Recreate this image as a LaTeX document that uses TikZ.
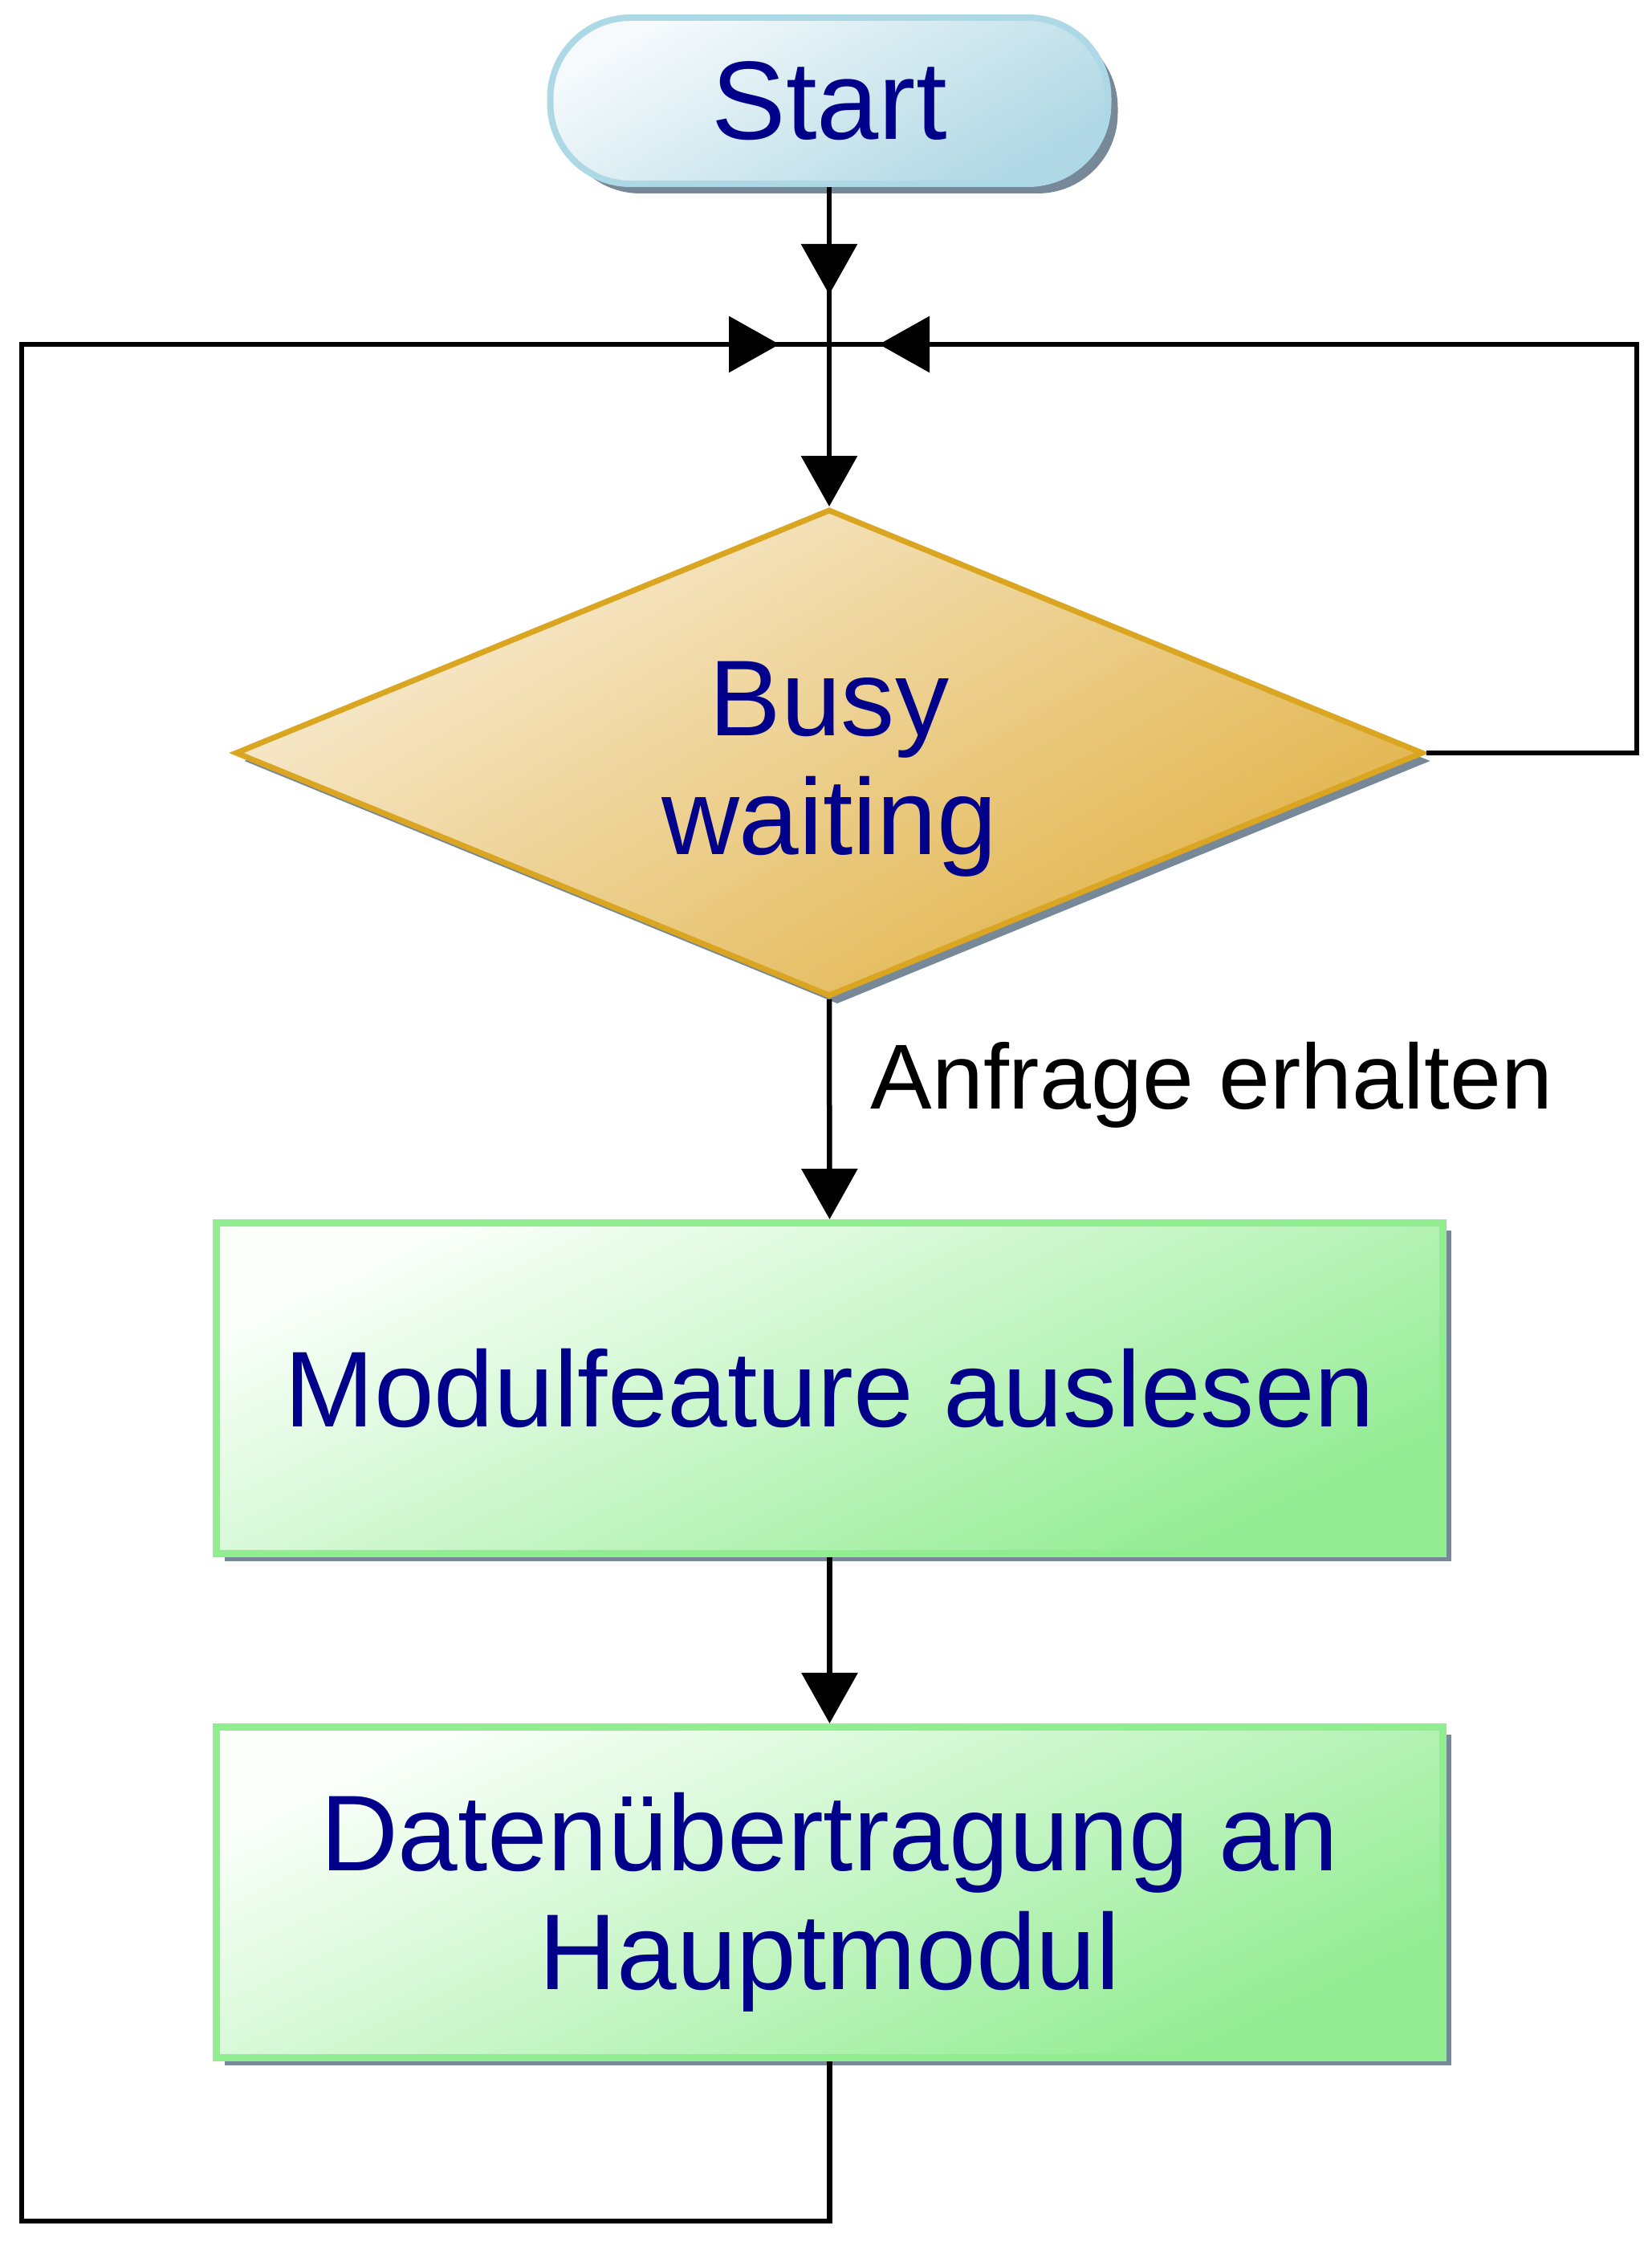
\documentclass[tikz,border=0pt]{standalone}
\usepackage{fontspec}
\setmainfont{Liberation Sans}
\usetikzlibrary{shapes.geometric,shapes.misc,arrows.meta,shadows}
\definecolor{txtblue}{RGB}{0,0,139}
\definecolor{startborder}{RGB}{173,216,230}
\definecolor{startlight}{RGB}{246,250,252}
\definecolor{startdark}{RGB}{176,216,228}
\definecolor{goldborder}{RGB}{218,165,32}
\definecolor{goldlight}{RGB}{248,236,212}
\definecolor{golddark}{RGB}{225,178,70}
\definecolor{greenborder}{RGB}{144,238,144}
\definecolor{greenlight}{RGB}{250,255,250}
\definecolor{greendark}{RGB}{146,236,146}
\definecolor{shadowgray}{RGB}{119,136,153}
\begin{document}
\begin{tikzpicture}[
  shad/.style={drop shadow={shadow xshift=0.1cm, shadow yshift=-0.1cm, fill=shadowgray, opacity=1}},
  bigtext/.style={font=\fontsize{38.2}{42}\selectfont, text=txtblue, align=center},
  startbox/.style={rectangle, rounded corners=1.0cm, draw=startborder, line width=0.08cm,
    top color=startlight, bottom color=startdark, shading angle=30,
    minimum width=6.95cm, minimum height=2.07cm, inner sep=0pt,
    drop shadow={shadow xshift=0.12cm, shadow yshift=-0.12cm, fill=shadowgray, opacity=1},
    bigtext, font=\fontsize{39.5}{42}\selectfont},
  decision/.style={diamond, shape aspect=2.4, draw=goldborder, line width=0.07cm,
    top color=goldlight, bottom color=golddark, shading angle=30,
    minimum width=14.8cm, minimum height=6.07cm, inner sep=0pt, shad, bigtext},
  process/.style={rectangle, draw=greenborder, line width=0.09cm,
    top color=greenlight, bottom color=greendark, shading angle=25,
    minimum width=15.28cm, minimum height=4.12cm, inner sep=0pt, shad, bigtext},
  inlabel/.style={bigtext, inner sep=0pt},
  conn/.style={draw=black, line width=0.065cm},
  arr/.style={conn, -{Triangle[length=0.63cm,width=0.69cm]}},
  offarr/.style={arr, shorten >=0.62cm},
  lbl/.style={font=\fontsize{32.7}{36}\selectfont, text=black, inner sep=0pt}
]
\useasboundingbox (0,0) rectangle (20.57,28.13);

\node[startbox] (start) at (10.33,26.875) {Start};
\node[decision, label={[inlabel, yshift=-0.2cm]center:Busy\\waiting}] (dia) at (10.33,18.75) {};
\node[process] (box1) at (10.335,10.835) {Modulfeature auslesen};
\node[process, label={[inlabel, yshift=-0.12cm]center:Datenübertragung an\\Hauptmodul}] (box2) at (10.335,4.555) {};

\coordinate (J) at (10.33,23.84);
\coordinate (R) at (20.39,23.84);
\coordinate (L) at (0.27,23.84);
\coordinate (B) at (0.27,0.46);

% Start to junction
\draw[conn] (start.south) -- (J);
\draw[offarr] (start.south) -- (J);

% junction to decision
\draw[arr] (J) -- (dia.north);

% right loop
\draw[conn] (dia.east) -| (R) -- (J);
\draw[offarr] (R) -- (J);

% decision to box1
\draw[arr] (dia.south) -- (box1.north)
  node[lbl, pos=0.39, anchor=west, xshift=0.48cm] (lab) {Anfrage erhalten};

% box1 to box2
\draw[arr] (box1.south) -- (box2.north);

% back loop
\draw[conn] (box2.south) |- (B) -- (L) -- (J);
\draw[offarr] (L) -- (J);
\end{tikzpicture}
\end{document}
